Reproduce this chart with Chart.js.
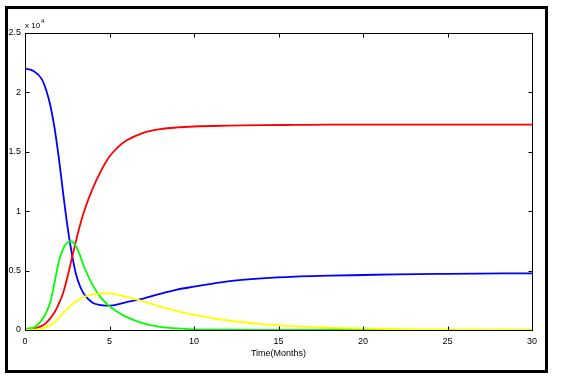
<!DOCTYPE html>
<html>
<head>
<meta charset="utf-8">
<script src="https://cdn.jsdelivr.net/npm/chart.js@4.4.1/dist/chart.umd.min.js"></script>
<style>
  html, body { margin: 0; padding: 0; background: #ffffff; }
  #wrap { width: 561px; height: 383px; }
</style>
</head>
<body>
<div id="wrap"><canvas id="c" width="561" height="383"></canvas></div>
<script>
// Time in months
const times = [0, 0.5, 1, 1.25, 1.5, 1.75, 2, 2.25, 2.5, 2.75, 3, 3.25, 3.5, 4, 4.5, 5, 5.5, 6, 7, 8, 9, 10, 12, 14, 16, 18, 20, 22, 25, 30];
const blueSeries = [22000, 21800, 21100, 20200, 18900, 17000, 14500, 11600, 8850, 6600, 4800, 3700, 3000, 2300, 2100, 2050, 2150, 2350, 2650, 3050, 3400, 3650, 4100, 4350, 4500, 4570, 4630, 4690, 4730, 4770];
const redSeries = [0, 100, 350, 600, 1000, 1500, 2200, 3100, 4400, 5900, 7400, 8800, 10000, 11900, 13400, 14600, 15400, 15950, 16600, 16900, 17050, 17130, 17200, 17240, 17260, 17280, 17280, 17280, 17280, 17280];
const greenSeries = [100, 200, 850, 1450, 2350, 4000, 5750, 6800, 7350, 7450, 7100, 6300, 5300, 3800, 2700, 2000, 1500, 1100, 550, 270, 130, 60, 20, 10, 5, 0, 0, 0, 0, 0];
const yellowSeries = [0, 20, 100, 220, 400, 650, 1000, 1400, 1750, 2100, 2400, 2620, 2800, 2980, 3080, 3080, 2960, 2780, 2400, 1970, 1600, 1270, 800, 500, 320, 190, 120, 80, 40, 20];
const xTicks = [0, 5, 10, 15, 20, 25, 30];
const yTicks = [0, 5000, 10000, 15000, 20000, 25000];
const xTitle = 'Time(Months)';
const yMultiplier = 'x 10';
const yExponent = '4';

const toPts = arr => times.map((t, i) => ({ x: t, y: arr[i] }));

const framePlugin = {
  id: 'framePlugin',
  beforeDraw(chart) {
    const ctx = chart.ctx;
    ctx.save();
    ctx.fillStyle = '#ffffff';
    ctx.fillRect(0, 0, chart.width, chart.height);
    ctx.restore();
  },
  afterDraw(chart) {
    const ctx = chart.ctx;
    const a = chart.chartArea;
    const xs = chart.scales.x, ys = chart.scales.y;
    ctx.save();
    // outer frame
    ctx.strokeStyle = '#000000';
    ctx.lineWidth = 3;
    ctx.strokeRect(6.5, 7.5, 540, 364);
    // plot box
    ctx.lineWidth = 1;
    const L = Math.round(a.left) + 0.5, R = Math.round(a.right) + 0.5;
    const T = Math.round(a.top) + 0.5, B = Math.round(a.bottom) + 0.5;
    ctx.strokeRect(L, T, R - L, B - T);
    // inward ticks
    const tl = 4;
    ctx.beginPath();
    xTicks.forEach(v => {
      const px = Math.round(xs.getPixelForValue(v)) + 0.5;
      ctx.moveTo(px, B); ctx.lineTo(px, B - tl);
      ctx.moveTo(px, T); ctx.lineTo(px, T + tl);
    });
    yTicks.forEach(v => {
      const py = Math.round(ys.getPixelForValue(v)) + 0.5;
      ctx.moveTo(L, py); ctx.lineTo(L + tl, py);
      ctx.moveTo(R, py); ctx.lineTo(R - tl, py);
    });
    ctx.stroke();
    // exponent label
    ctx.fillStyle = '#000000';
    ctx.textBaseline = 'alphabetic';
    ctx.textAlign = 'left';
    ctx.font = '8px "Liberation Sans", Arial, sans-serif';
    ctx.fillText(yMultiplier, a.left, a.top - 5);
    const w = ctx.measureText(yMultiplier).width;
    ctx.font = '6px "Liberation Sans", Arial, sans-serif';
    ctx.fillText(yExponent, a.left + w + 1, a.top - 10);
    ctx.restore();
  }
};

new Chart(document.getElementById('c'), {
  type: 'line',
  data: {
    datasets: [
      { label: 'S', data: toPts(blueSeries), borderColor: '#0000ff', order: 4 },
      { label: 'R', data: toPts(redSeries), borderColor: '#ff0000', order: 3 },
      { label: 'I', data: toPts(greenSeries), borderColor: '#00ff00', order: 2 },
      { label: 'E', data: toPts(yellowSeries), borderColor: '#ffff00', order: 1 }
    ]
  },
  options: {
    responsive: false,
    animation: false,
    devicePixelRatio: 1,
    layout: { padding: { left: 0, top: 33, right: 29, bottom: 0 } },
    elements: {
      line: { borderWidth: 1.8, cubicInterpolationMode: 'monotone', fill: false },
      point: { radius: 0 }
    },
    plugins: { legend: { display: false }, tooltip: { enabled: false } },
    scales: {
      x: {
        type: 'linear', min: 0, max: 30,
        afterFit(s) { s.height = 53; },
        afterBuildTicks(s) { s.ticks = xTicks.map(v => ({ value: v })); },
        grid: { display: false, drawTicks: false },
        border: { display: false },
        ticks: { padding: 6, color: '#000000', font: { family: '"Liberation Sans", Arial, sans-serif', size: 9 }, maxRotation: 0, autoSkip: false },
        title: { display: true, text: xTitle, color: '#000000', font: { family: '"Liberation Sans", Arial, sans-serif', size: 9 }, padding: { top: 0, bottom: 24 } }
      },
      y: {
        type: 'linear', min: 0, max: 25000,
        afterFit(s) { s.width = 25; },
        afterBuildTicks(s) { s.ticks = yTicks.map(v => ({ value: v })); },
        grid: { display: false, drawTicks: false },
        border: { display: false },
        ticks: { padding: 4, color: '#000000', font: { family: '"Liberation Sans", Arial, sans-serif', size: 9 }, autoSkip: false, callback: v => String(v / 10000) }
      }
    }
  },
  plugins: [framePlugin]
});
</script>
</body>
</html>
